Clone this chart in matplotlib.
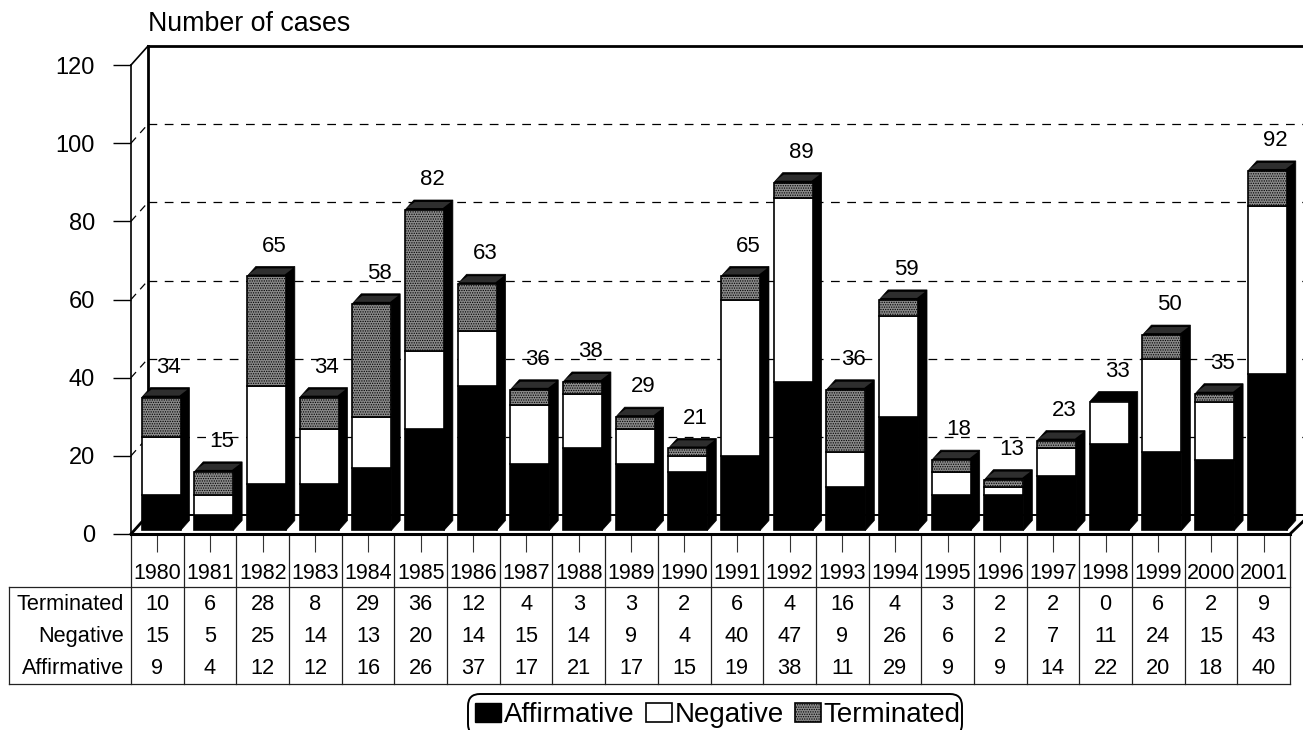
import numpy as np
import matplotlib
matplotlib.use("Agg")
from matplotlib import pyplot as plt
from matplotlib.patches import Patch, FancyBboxPatch
from matplotlib.transforms import IdentityTransform

plt.rcParams['font.family'] = ['Liberation Sans', 'DejaVu Sans']
plt.rcParams['hatch.linewidth'] = 0.6

years = [1980, 1981, 1982, 1983, 1984, 1985, 1986, 1987, 1988, 1989, 1990,
         1991, 1992, 1993, 1994, 1995, 1996, 1997, 1998, 1999, 2000, 2001]
terminated = [10, 6, 28, 8, 29, 36, 12, 4, 3, 3, 2, 6, 4, 16, 4, 3, 2, 2, 0, 6, 2, 9]
negative = [15, 5, 25, 14, 13, 20, 14, 15, 14, 9, 4, 40, 47, 9, 26, 6, 2, 7, 11, 24, 15, 43]
affirmative = [9, 4, 12, 12, 16, 26, 37, 17, 21, 17, 15, 19, 38, 11, 29, 9, 9, 14, 22, 20, 18, 40]
totals = [34, 15, 65, 34, 58, 82, 63, 36, 38, 29, 21, 65, 89, 36, 59, 18, 13, 23, 33, 50, 35, 92]

FS = 15.7
GREY = '#8a8a8a'

fig = plt.figure(figsize=(13.03, 7.30), dpi=100)
ax = fig.add_axes([131 / 1303, 196 / 730, 1159 / 1303, 469 / 730])
ax.set_xlim(0, 22)
ax.set_ylim(0, 120)
ax.patch.set_visible(False)

# depth of the fake 3d walls and of the bars, in data units
wall_dx, wall_dy = 0.323, 4.86
bar_dx, bar_dy = 0.17, 2.56
bar_left, bar_w, lift = 0.2, 0.74, 0.9
x_right = 22.3

# walls
ax.plot([wall_dx, wall_dx], [wall_dy, 120 + wall_dy], color='k', lw=2, clip_on=False, zorder=1)
ax.plot([wall_dx, x_right], [120 + wall_dy] * 2, color='k', lw=2, clip_on=False, zorder=1)
ax.plot([wall_dx, x_right], [wall_dy] * 2, color='k', lw=1.4, clip_on=False, zorder=1)
ax.plot([0, wall_dx], [0, wall_dy], color='k', lw=2, clip_on=False, zorder=1)
ax.plot([0, wall_dx], [120, 120 + wall_dy], color='k', lw=1.2, clip_on=False, zorder=1)
ax.plot([22, x_right], [0, wall_dy * 0.8], color='k', lw=2, clip_on=False, zorder=1)
for v in [20, 40, 60, 80, 100]:
    ax.plot([0, wall_dx], [v, v + wall_dy], color='k', lw=0.9, ls=(0, (6, 5)), clip_on=False, zorder=1)
    ax.plot([wall_dx, x_right], [v + wall_dy] * 2, color='k', lw=0.9, ls=(0, (7, 6)), clip_on=False, zorder=1)

# bars
for i in range(len(years)):
    l = i + bar_left
    r = l + bar_w
    base = lift
    top = lift + affirmative[i] + negative[i] + terminated[i]
    ax.fill([r, r + bar_dx, r + bar_dx, l + bar_dx, l, r],
            [base, base + bar_dy, top + bar_dy, top + bar_dy, top, top],
            color='k', lw=0.5, zorder=3, clip_on=False)
    if terminated[i] > 0:
        ax.fill([l + 0.03, r - 0.02, r + bar_dx - 0.04, l + bar_dx + 0.02],
                [top + 0.5, top + 0.5, top + bar_dy - 0.5, top + bar_dy - 0.5],
                facecolor='#2e2e2e', edgecolor='none', zorder=4, clip_on=False)

x = np.arange(len(years)) + bar_left + bar_w / 2
aff = np.array(affirmative)
neg = np.array(negative)
ter = np.array(terminated)
ax.bar(x, aff, bar_w, bottom=lift, color='k', edgecolor='k', lw=1.2, zorder=3, clip_on=False)
ax.bar(x, neg, bar_w, bottom=lift + aff, color='white', edgecolor='k', lw=1.2, zorder=3, clip_on=False)
ax.bar(x[ter > 0], ter[ter > 0], bar_w, bottom=(lift + aff + neg)[ter > 0], facecolor=GREY,
       edgecolor='k', lw=1.2, hatch='.......', zorder=3, clip_on=False)

for i, t in enumerate(totals):
    ax.text(i + 0.72, t + lift + bar_dy + 5.2, str(t), ha='center', va='center',
            fontsize=16, zorder=5, clip_on=False)

# axes and ticks
for s in ['top', 'right']:
    ax.spines[s].set_visible(False)
ax.spines['left'].set_linewidth(1.2)
ax.spines['bottom'].set_linewidth(2.2)
ax.set_yticks(range(0, 121, 20))
ax.tick_params(axis='y', length=13, width=1, pad=13, labelsize=17)
ax.set_xticks(np.arange(len(years)) + 0.5)
ax.set_xticklabels(years)
ax.tick_params(axis='x', length=13, width=0.8, color='#333333', pad=8, labelsize=15.5)

ax.text(wall_dx, 130.5, 'Number of cases', ha='left', va='center', fontsize=19.3)

# data table under the chart
table_top, table_bottom, table_left = -13.6, -38.5, -2.316
rows = [('Terminated', terminated, -18), ('Negative', negative, -26.2), ('Affirmative', affirmative, -34.4)]
for name, vals, y in rows:
    ax.text(-0.133, y, name, ha='right', va='center', fontsize=FS, clip_on=False)
    for i, v in enumerate(vals):
        ax.text(i + 0.5, y, str(v), ha='center', va='center', fontsize=FS, clip_on=False)
for i in range(len(years) + 1):
    ax.plot([i, i], [0, table_bottom], color='#222222', lw=0.9, clip_on=False, zorder=1)
ax.plot([table_left, 22], [table_top] * 2, color='#222222', lw=0.9, clip_on=False)
ax.plot([table_left, 22], [table_bottom] * 2, color='#222222', lw=0.9, clip_on=False)
ax.plot([table_left] * 2, [table_top, table_bottom], color='#222222', lw=0.9, clip_on=False)

# legend frame runs off the bottom of the page, so it is drawn on its own
fig.add_artist(FancyBboxPatch((468, -6), 494, 42, boxstyle='round,pad=0,rounding_size=12',
                              transform=IdentityTransform(), facecolor='white', edgecolor='k',
                              lw=1.4, zorder=-1))
handles = [Patch(facecolor='k', edgecolor='k', label='Affirmative'),
           Patch(facecolor='white', edgecolor='k', lw=1.2, label='Negative'),
           Patch(facecolor=GREY, edgecolor='k', lw=1.2, hatch='.......', label='Terminated')]
leg = ax.legend(handles=handles, ncol=3, loc='upper left', bbox_to_anchor=(475 / 1303, 1 - 702 / 730),
                bbox_transform=fig.transFigure, borderaxespad=0, fontsize=20, frameon=False,
                handlelength=0.94, handleheight=0.65, handletextpad=0.1, columnspacing=0.4,
                borderpad=0, labelspacing=0)

fig.savefig('out.png', dpi=100)
